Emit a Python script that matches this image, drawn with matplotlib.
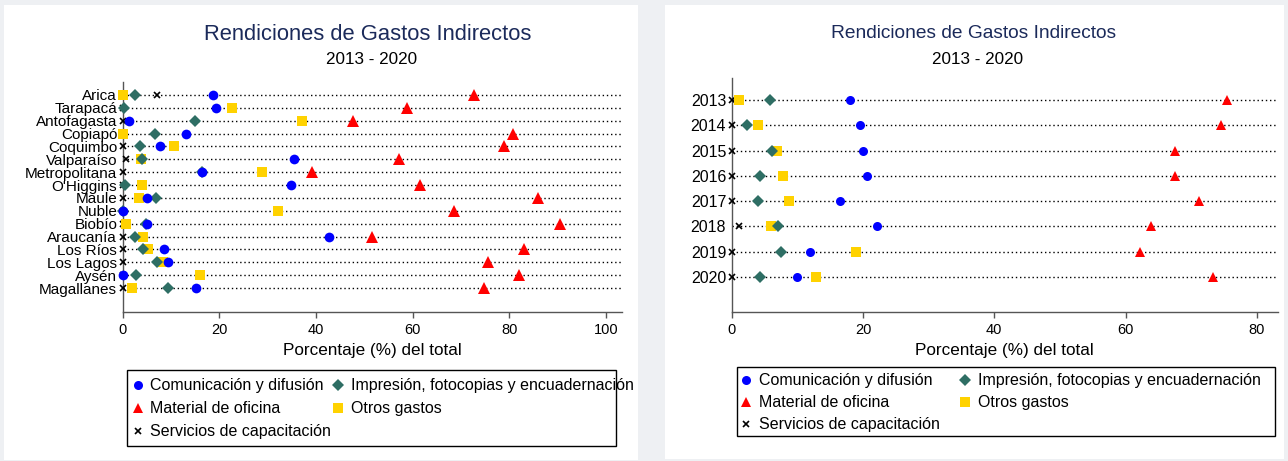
import matplotlib.pyplot as plt
from matplotlib.patches import Rectangle
from matplotlib.lines import Line2D

plt.rcParams['font.family'] = ['Liberation Sans', 'DejaVu Sans']

# *** data: share (%) of each expense type ***
regiones = ['Arica', 'Tarapacá', 'Antofagasta', 'Copiapó', 'Coquimbo', 'Valparaíso',
            'Metropolitana', "O'Higgins", 'Maule', 'Nuble', 'Biobío', 'Araucanía',
            'Los Ríos', 'Los Lagos', 'Aysén', 'Magallanes']
reg_comunicacion = [18.7, 19.3, 1.3, 13.2, 7.7, 35.5, 16.4, 34.9, 5.1, 0.1, 5.0, 42.7, 8.6, 9.3, 0.1, 15.1]
reg_impresion = [2.5, 0.2, 15.0, 6.7, 3.5, 3.9, 16.5, 0.5, 6.8, 0.0, 4.8, 2.6, 4.3, 7.2, 2.8, 9.3]
reg_material = [72.8, 58.9, 47.6, 80.8, 78.9, 57.3, 39.1, 61.5, 85.9, 68.6, 90.6, 51.6, 83.1, 75.7, 82.0, 74.7]
reg_otros = [0.0, 22.7, 37.2, 0.0, 10.6, 3.7, 28.8, 3.9, 3.4, 32.1, 0.6, 4.1, 5.3, 8.4, 15.9, 1.9]
reg_capacitacion = [7.0, 0.0, 0.0, 0.0, 0.0, 0.6, 0.0, 0.0, 0.0, 0.0, 0.0, 0.0, 0.0, 0.0, 0.0, 0.0]

anios = ['2013', '2014', '2015', '2016', '2017', '2018', '2019', '2020']
an_comunicacion = [18.0, 19.5, 20.0, 20.6, 16.5, 22.2, 11.9, 10.0]
an_impresion = [5.8, 2.3, 6.1, 4.3, 4.0, 7.0, 7.5, 4.3]
an_material = [75.4, 74.6, 67.5, 67.5, 71.2, 63.9, 62.2, 73.3]
an_otros = [1.1, 4.0, 6.9, 7.8, 8.7, 6.0, 19.0, 12.8]
an_capacitacion = [0.0, 0.0, 0.0, 0.0, 0.0, 1.1, 0.0, 0.0]

series_names = ['Comunicación y difusión', 'Impresión, fotocopias y encuadernación',
                'Material de oficina', 'Otros gastos', 'Servicios de capacitación']

# marker, colour, zorder
styles = {
    'Comunicación y difusión': dict(marker='o', color='#0000ff', z=6),
    'Impresión, fotocopias y encuadernación': dict(marker='D', color='#2e6e64', z=5),
    'Material de oficina': dict(marker='^', color='#ff0000', z=5),
    'Otros gastos': dict(marker='s', color='#ffd200', z=4),
    'Servicios de capacitación': dict(marker='x', color='#000000', z=3),
}

W, H = 1288, 461
fig = plt.figure(figsize=(W / 100, H / 100), dpi=100, facecolor='#eef0f3')


def px(x, y):
    # pixel position -> figure fraction
    return x / W, 1 - y / H


# white panels behind each graph
fig.add_artist(Rectangle((4 / W, 1 - 460 / H), 634 / W, 455 / H, transform=fig.transFigure,
                         facecolor='white', edgecolor='none', zorder=0))
fig.add_artist(Rectangle((665 / W, 1 - 459 / H), 619 / W, 454 / H, transform=fig.transFigure,
                         facecolor='white', edgecolor='none', zorder=0))

g_reg = fig.add_axes([122.7 / W, 1 - 312 / H, 499 / W, 230 / H])
g_an = fig.add_axes([731.8 / W, 1 - 312 / H, 546 / W, 234 / H])


def draw_dots(ax, labels, values, sizes, ylabel_size, xmax, xticks, ylim):
    ypos = list(range(len(labels)))
    for y in ypos:
        ax.axhline(y, color='black', linewidth=1.0, linestyle=(0, (1, 2)), zorder=1)
    for name, vals in zip(series_names, values):
        st = styles[name]
        ms = sizes[st['marker']]
        if st['marker'] == 'x':
            ax.plot(vals, ypos, linestyle='none', marker='x', color=st['color'],
                    markersize=ms, markeredgewidth=1.2, zorder=st['z'], clip_on=False)
        else:
            ax.plot(vals, ypos, linestyle='none', marker=st['marker'], color=st['color'],
                    markersize=ms, markeredgewidth=0, zorder=st['z'], clip_on=False)
    ax.set_yticks(ypos)
    ax.set_yticklabels(labels, fontsize=ylabel_size)
    ax.set_ylim(*ylim)
    ax.set_xlim(0, xmax)
    ax.set_xticks(xticks)
    ax.tick_params(axis='y', length=0, pad=4)
    ax.tick_params(axis='x', length=4, width=1, color='#555555', labelsize=10.5, pad=4)
    for s in ['top', 'right']:
        ax.spines[s].set_visible(False)
    for s in ['left', 'bottom']:
        ax.spines[s].set_color('#555555')
        ax.spines[s].set_linewidth(1.0)
    ax.set_facecolor('none')
    ax.set_xlabel('Porcentaje (%) del total', fontsize=12.3, labelpad=4)


# *** graph by region ***
draw_dots(g_reg, regiones,
          [reg_comunicacion, reg_impresion, reg_material, reg_otros, reg_capacitacion],
          {'o': 7.0, 'D': 6.5, '^': 8.0, 's': 7.0, 'x': 4.5},
          11, 103.3, [0, 20, 40, 60, 80, 100], (16.86, -1.01))

# *** graph by year ***
draw_dots(g_an, anios,
          [an_comunicacion, an_impresion, an_material, an_otros, an_capacitacion],
          {'o': 6.5, 'D': 6.5, '^': 7.5, 's': 6.5, 'x': 4.5},
          11.5, 83.2, [0, 20, 40, 60, 80], (8.38, -0.87))

# titles
for cx, tsize in [(368, 15.8), (974, 13.8)]:
    fig.text(*px(cx, 34), 'Rendiciones de Gastos Indirectos', ha='center', va='center',
             fontsize=tsize, color='#1b2a5a')
    fig.text(*px(cx + 4, 59), '2013 - 2020', ha='center', va='center', fontsize=12.3,
             color='black')

# legends: box, then markers and labels placed row by row
order = [0, 1, 2, 3, 4]
legend_layout = [
    # box (x0, y0, x1, y1), column marker x, column text x, row y
    dict(box=(127, 370, 616, 446), mx=[138, 338], tx=[150, 351], ry=[385, 408, 431]),
    dict(box=(737, 367, 1275, 436), mx=[746, 965], tx=[759, 978], ry=[380, 402, 424]),
]
for lay in legend_layout:
    x0, y0, x1, y1 = lay['box']
    fig.add_artist(Rectangle((x0 / W, 1 - y1 / H), (x1 - x0) / W, (y1 - y0) / H,
                             transform=fig.transFigure, facecolor='none',
                             edgecolor='black', linewidth=1.0, zorder=3))
    for k, i in enumerate(order):
        name = series_names[i]
        st = styles[name]
        col, row = k % 2, k // 2
        mx, my = px(lay['mx'][col], lay['ry'][row])
        if st['marker'] == 'x':
            mk = Line2D([mx], [my], transform=fig.transFigure, linestyle='none', marker='x',
                        color=st['color'], markersize=4.5, markeredgewidth=1.2)
        else:
            mk = Line2D([mx], [my], transform=fig.transFigure, linestyle='none',
                        marker=st['marker'], color=st['color'], markersize=6.5,
                        markeredgewidth=0)
        fig.add_artist(mk)
        fig.text(*px(lay['tx'][col], lay['ry'][row]), name, ha='left', va='center',
                 fontsize=11.5, color='black')

fig.savefig('out.png', dpi=100, facecolor=fig.get_facecolor())
